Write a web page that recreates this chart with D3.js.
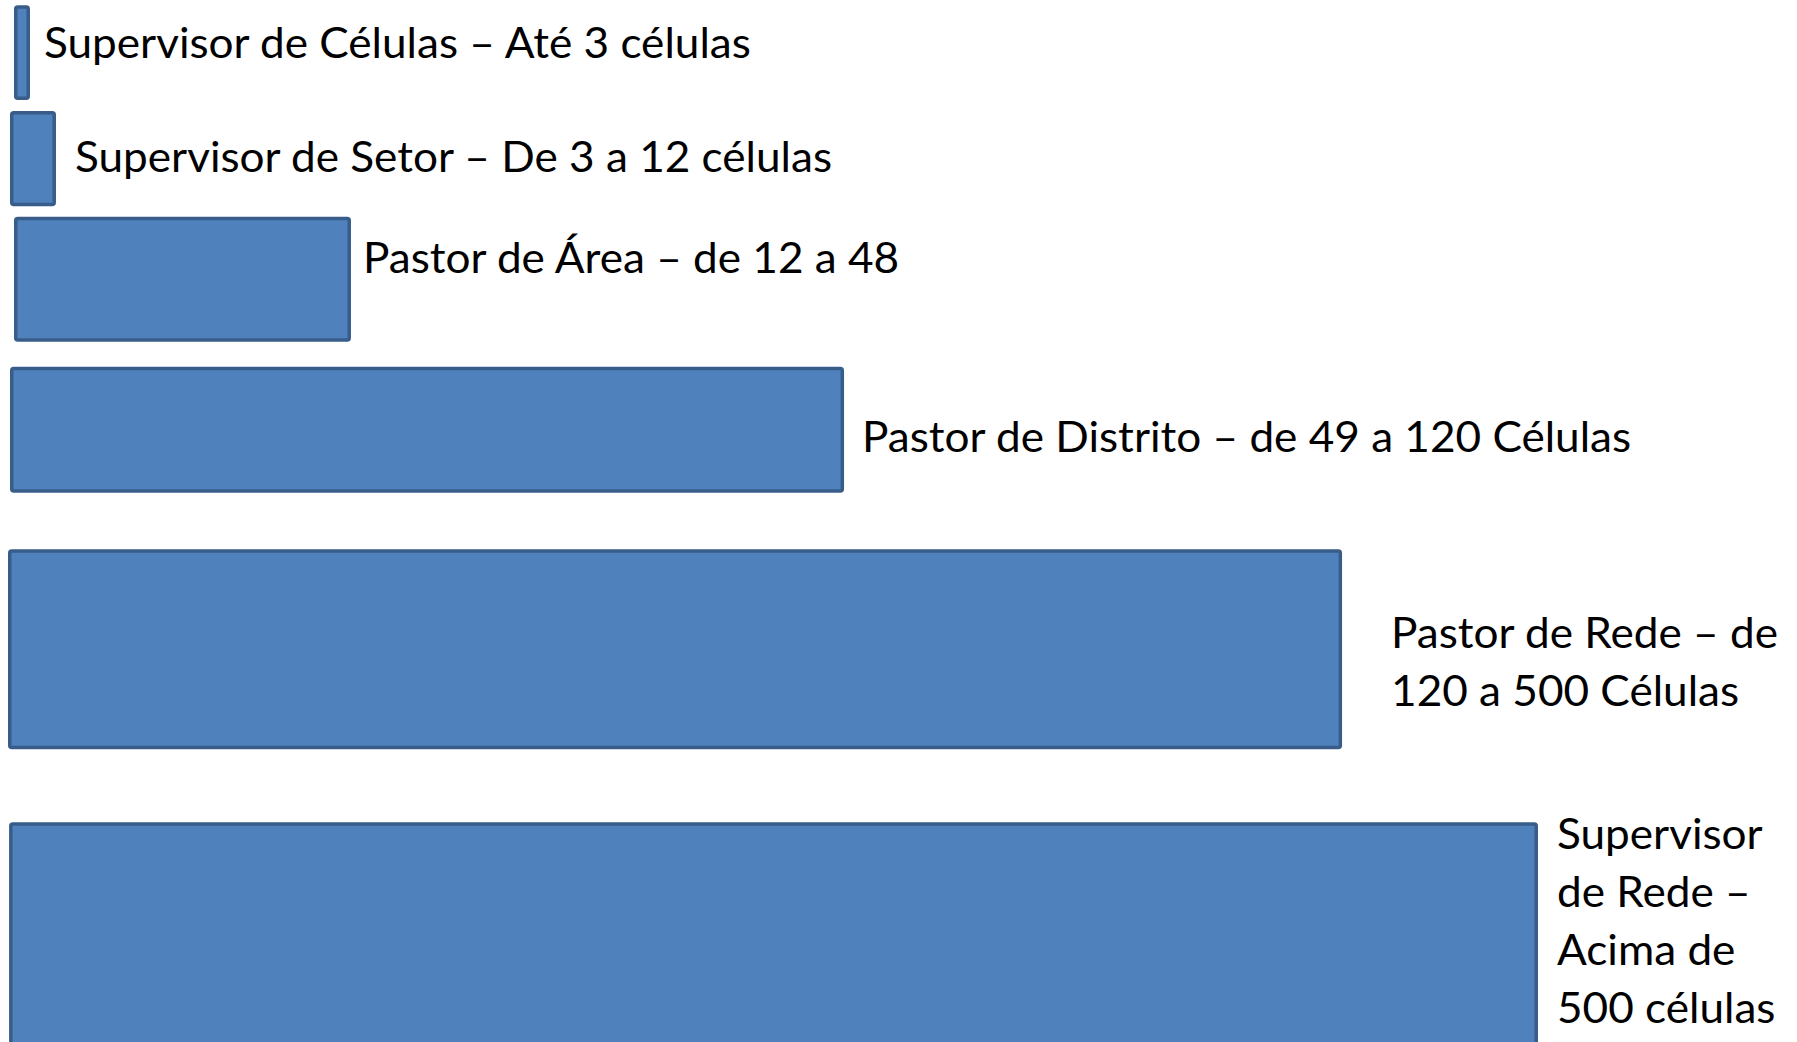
<!DOCTYPE html>
<html>
<head>
<meta charset="utf-8">
<script src="https://cdn.jsdelivr.net/npm/d3@7"></script>
<style>
	html, body { margin: 0; padding: 0; background: #fff; }
	svg { display: block; }
</style>
</head>
<body>
<svg id="svg-container"></svg>
<script>
// níveis de liderança (cada linha do rótulo é um item)
const niveis = [
	['Supervisor de Células – Até 3 células'],
	['Supervisor de Setor – De 3 a 12 células'],
	['Pastor de Área – de 12 a 48'],
	['Pastor de Distrito – de 49 a 120 Células'],
	['Pastor de Rede – de', '120 a 500 Células'],
	['Supervisor', 'de Rede –', 'Acima de', '500 células']
]

// extensão horizontal de cada barra (0–100)
const comecos = [0.91, 0.65, 0.91, 0.65, 0.52, 0.59]
const larguras = [1.95, 3.64, 22.82, 54.88, 87.26, 100]
// faixa vertical de cada barra (0–100 da altura)
const inicio = [0.5, 10.65, 20.8, 35.2, 52.7, 78.9]
const fim = [9.6, 19.8, 32.8, 47.3, 71.9, 101.5]

// deslocamento dos rótulos (px) em relação ao fim da barra / topo da barra
const labelDx = [14, 19, 12, 18, 49, 19]
const labelDy = [53, 61, 56, 85, 99, 27]

const width = 1797
const height = 1042
const lineHeight = 58
const sw = 3.5

const svg = d3.select('#svg-container').attr('width', width).attr('height', height)

const x = d3.scaleLinear().domain([0, 100]).range([0, 1538])
const y = d3.scaleLinear().domain([0, 100]).range([0, height])

const rows = niveis.map((linhas, i) => ({
	linhas,
	x0: comecos[i],
	valor: larguras[i],
	y0: inicio[i],
	y1: fim[i],
	dx: labelDx[i],
	dy: labelDy[i]
}))

svg
	.selectAll('rect')
	.data(rows)
	.join('rect')
	.attr('x', (d) => x(d.x0) + sw / 2)
	.attr('y', (d) => y(d.y0) + sw / 2)
	.attr('width', (d) => x(d.valor) - x(d.x0) - sw)
	.attr('height', (d) => y(d.y1) - y(d.y0) - sw)
	.attr('rx', 2)
	.style('fill', '#4f81bd')
	.style('stroke', '#385d8a')
	.style('stroke-width', sw)

const labels = svg
	.selectAll('g.label')
	.data(rows)
	.join('g')
	.attr('class', 'label')

labels
	.append('text')
	.style('font-family', 'Lato, "Open Sans", sans-serif')
	.style('font-size', '42px')
	.style('fill', '#000')
	.selectAll('tspan')
	.data((d) => d.linhas)
	.join('tspan')
	.attr('x', 0)
	.attr('dy', (d, i) => (i === 0 ? 0 : lineHeight))
	.text((d) => d)

// Calibri é mais estreita: comprimir na horizontal para a largura da 1ª linha
const ref = labels.filter((d, i) => i === 0).select('text').node()
const k = 707 / ref.getComputedTextLength()

labels.attr('transform', (d) => `translate(${x(d.valor) + d.dx},${y(d.y0) + d.dy}) scale(${k},1)`)
</script>
</body>
</html>
